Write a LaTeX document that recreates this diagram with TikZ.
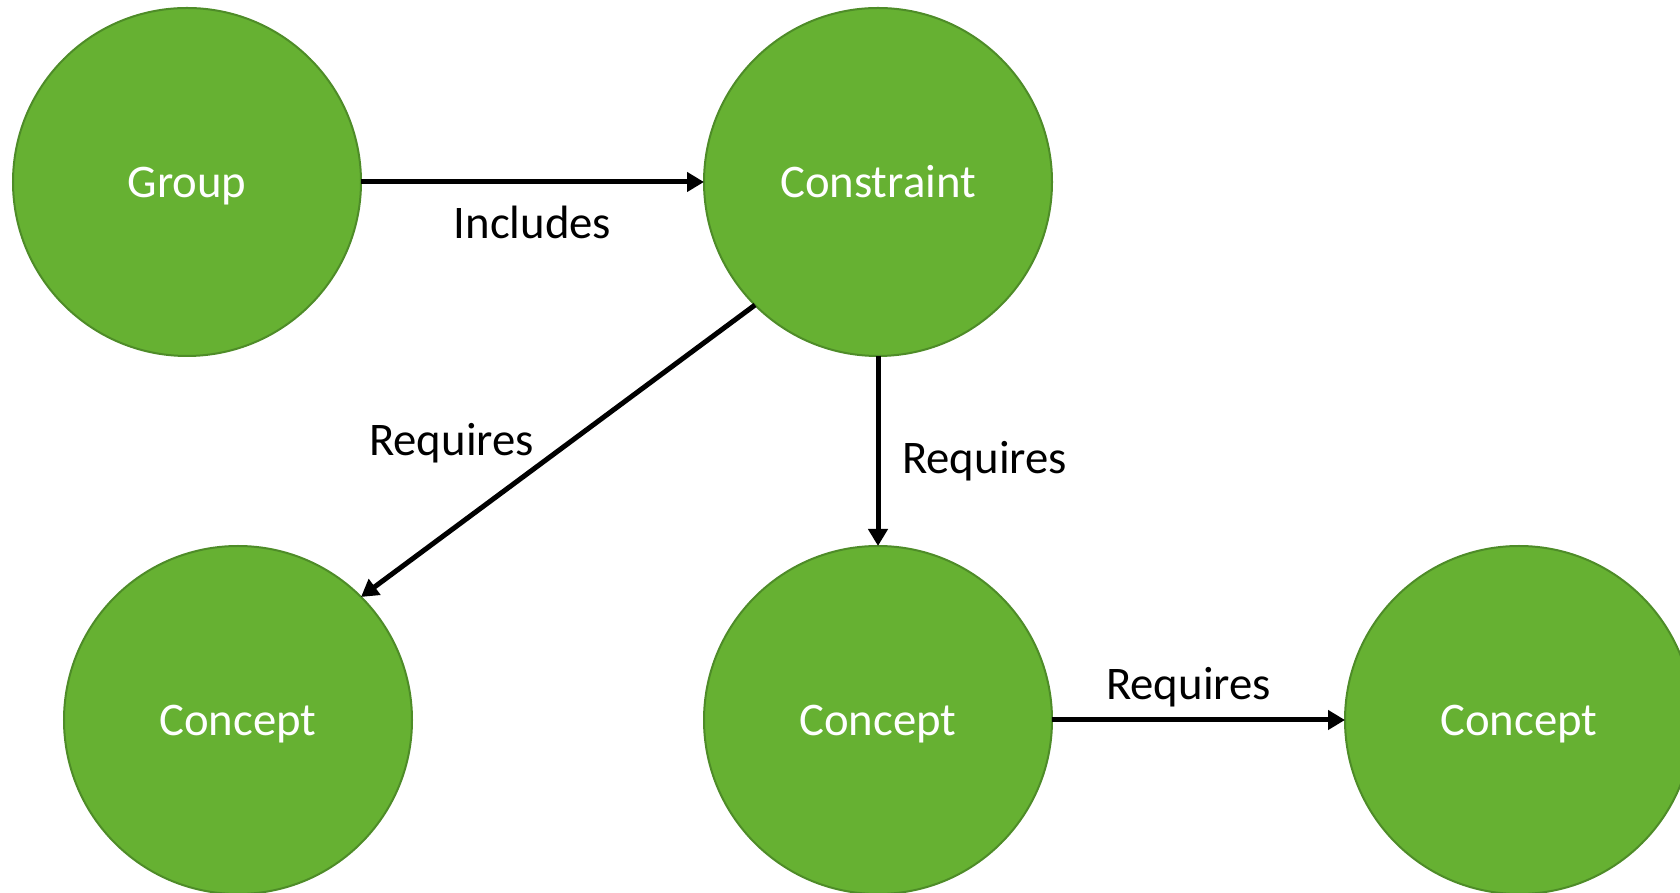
\documentclass[tikz,border=0pt]{standalone}
\usepackage{fontspec}
\setmainfont{Carlito}
\usepackage{xcolor}
\usepackage{tikz}
\usetikzlibrary{arrows.meta, positioning}
\definecolor{nodegreen}{RGB}{102,177,50}
\definecolor{nodeborder}{RGB}{78,140,40}
\newcommand{\labelfont}{\fontsize{13.3pt}{16pt}\selectfont}
\tikzset{
    circlenode/.style = {circle, draw=nodeborder, line width=0.02cm, fill=nodegreen, text=white, 
      inner sep = 0em, outer sep = 0em, minimum size=3.48cm, node distance=0em, 
      text height=0.9em, text depth=0em, font=\labelfont},
    textnode/.style  = {draw=none, fill=none, rectangle, inner sep = 0.3em, font=\labelfont},
    connect/.style = {black, line width=0.05cm, -{Triangle[length=0.17cm, width=0.19cm]}}
}

\begin{document}
\begin{tikzpicture}
    \useasboundingbox (0,0) rectangle (16.8,-8.93);

    \node [name=group, circlenode] at (1.87,-1.82) {Group}; 
    \node [name=cons, circlenode, right of = group, xshift=6.91cm] {Constraint}; 

    \node [name=conceptL, circlenode, below of = group, xshift=0.51cm, yshift=-5.38cm] {Concept}; 
    \node [name=conceptM, circlenode, below of = cons, yshift=-5.38cm] {Concept}; 
    \node [name=conceptR, circlenode, right of = conceptM, xshift=6.41cm] {Concept}; 

    \draw [connect] (group) -- node[textnode, below, yshift=-0.11cm]{Includes} (cons); 
    \draw [connect] (cons.225) -- node[textnode, midway, left, xshift=-0.11cm, yshift=0.08cm]{Requires} (conceptL.45); 
    \draw [connect] (cons) -- node[textnode, right, xshift=0.11cm, yshift=-0.1cm]{Requires} (conceptM); 
    \draw [connect] (conceptM) -- node[textnode, above, xshift=-0.1cm]{Requires} (conceptR); 
\end{tikzpicture}
\end{document}
